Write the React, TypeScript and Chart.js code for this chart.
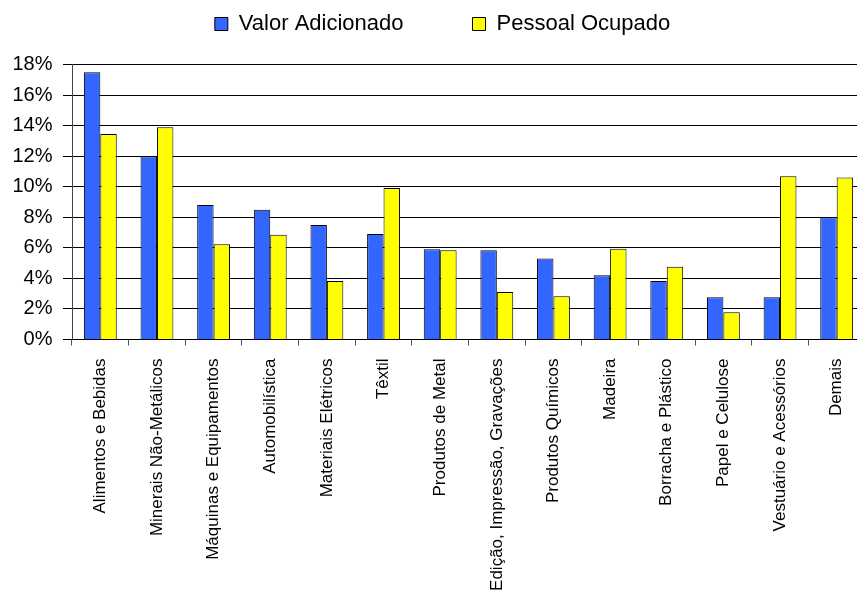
import React, { useEffect, useRef } from "react";
import { Chart, registerables } from "chart.js";

Chart.register(...registerables);

const categories = [
  "Alimentos e Bebidas",
  "Minerais Não-Metálicos",
  "Máquinas e Equipamentos",
  "Automobilística",
  "Materiais Elétricos",
  "Têxtil",
  "Produtos de Metal",
  "Edição, Impressão, Gravações",
  "Produtos Químicos",
  "Madeira",
  "Borracha e Plástico",
  "Papel e Celulose",
  "Vestuário e Acessórios",
  "Demais",
];

const valorAdicionado = [17.5, 12.0, 8.8, 8.5, 7.5, 6.9, 5.9, 5.85, 5.3, 4.2, 3.83, 2.76, 2.76, 8.0];
const pessoalOcupado = [13.45, 13.9, 6.23, 6.86, 3.83, 9.92, 5.84, 3.11, 2.83, 5.94, 4.77, 1.78, 10.68, 10.61];

const seriesNames = ["Valor Adicionado", "Pessoal Ocupado"];
const yMin = 0;
const yMax = 18;
const yStep = 2;

const FONT = "'Liberation Sans', Arial, Helvetica, sans-serif";
const CANVAS_W = 870;
const CANVAS_H = 600;

// keeps the legend at the top of the canvas while leaving room below it
const legendSpacer = {
  id: "legendSpacer",
  beforeLayout(chart: any) {
    const lg: any = chart.legend;
    if (lg && !lg.__spaced) {
      const orig = lg.fit.bind(lg);
      lg.fit = function () {
        orig();
        this.height += 19.5;
      };
      lg.__spaced = true;
    }
  },
  afterLayout(chart: any) {
    const lg: any = chart.legend;
    if (lg) {
      lg.left += 6;
      lg.right += 6;
    }
  },
};

export default function App() {
  const ref = useRef<HTMLCanvasElement | null>(null);

  useEffect(() => {
    if (!ref.current) return;
    Chart.defaults.color = "#000";
    Chart.defaults.font.family = FONT;
    const chart = new Chart(ref.current, {
      type: "bar",
      data: {
        labels: categories,
        datasets: [
          {
            label: seriesNames[0],
            data: valorAdicionado,
            backgroundColor: "#3366FF",
            borderColor: "#000",
            borderWidth: 1,
            categoryPercentage: 0.58,
            barPercentage: 1.0,
          },
          {
            label: seriesNames[1],
            data: pessoalOcupado,
            backgroundColor: "#FFFF00",
            borderColor: "#000",
            borderWidth: 1,
            categoryPercentage: 0.58,
            barPercentage: 1.0,
          },
        ],
      },
      plugins: [legendSpacer],
      options: {
        animation: false,
        responsive: false,
        devicePixelRatio: 1,
        layout: { padding: { top: -64, left: 0, right: 13, bottom: 0 } },
        plugins: {
          tooltip: { enabled: false },
          legend: {
            position: "top",
            align: "center",
            labels: {
              font: { size: 22, family: FONT },
              color: "#000",
              boxWidth: 13,
              boxHeight: 13,
              padding: 69,
            },
          },
        },
        scales: {
          x: {
            offset: true,
            grid: {
              offset: true,
              drawOnChartArea: false,
              drawTicks: true,
              tickLength: 6,
              color: "#555",
            },
            border: { color: "#000", width: 1 },
            ticks: {
              autoSkip: false,
              minRotation: 90,
              maxRotation: 90,
              padding: 13,
              font: { size: 17, family: FONT },
              color: "#000",
            },
            afterFit: (scale: any) => {
              scale.height = CANVAS_H - 331.5;
            },
          },
          y: {
            min: yMin,
            max: yMax,
            ticks: {
              stepSize: yStep,
              padding: 10.5,
              font: { size: 20, family: FONT },
              color: "#000",
              callback: (v: any) => `${v}%`,
            },
            grid: {
              color: "#000",
              lineWidth: 1,
              drawTicks: true,
              tickLength: 9,
            },
            border: { color: "#444", width: 1 },
            afterFit: (scale: any) => {
              scale.width = 64;
            },
          },
        },
      },
    });
    return () => chart.destroy();
  }, []);

  return (
    <div
      style={{
        position: "fixed",
        left: 8,
        top: 8,
        width: 849,
        height: 583,
        overflow: "hidden",
        background: "#fff",
      }}
    >
      <canvas ref={ref} width={CANVAS_W} height={CANVAS_H} />
    </div>
  );
}
